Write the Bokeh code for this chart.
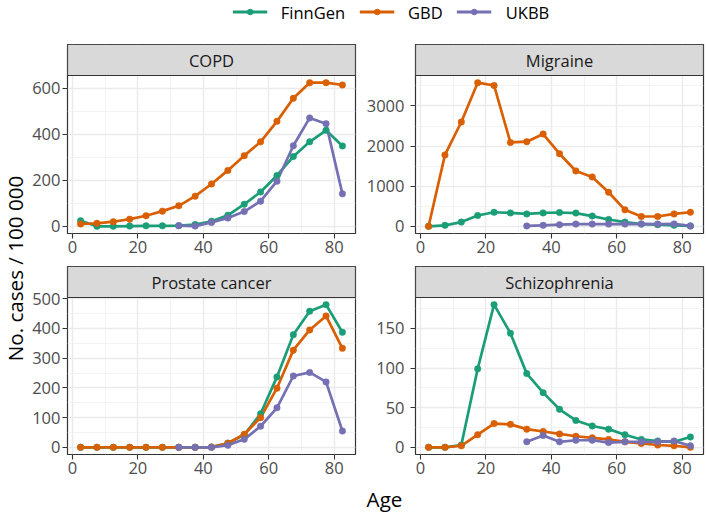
import math
from bokeh.plotting import figure
from bokeh.models import Range1d, FixedTicker, Label, Legend, LegendItem
from bokeh.layouts import column, row
from bokeh.core.properties import value
from bokeh.embed import file_html
from bokeh.resources import INLINE

# ---------------- data ----------------
AGES = [2.5, 7.5, 12.5, 17.5, 22.5, 27.5, 32.5, 37.5, 42.5, 47.5,
        52.5, 57.5, 62.5, 67.5, 72.5, 77.5, 82.5]
UKBB_AGES = AGES[6:]

SERIES = ["FinnGen", "GBD", "UKBB"]
COLORS = ["#1B9E77", "#D95F02", "#7570B3"]

COPD_FINNGEN = [24, 0, 0, 1, 2, 2, 3, 8, 22, 48, 96, 149, 221, 303, 367, 417, 349]
COPD_GBD = [10, 13, 20, 31, 46, 66, 89, 131, 184, 243, 307, 367, 456, 556, 624, 624, 614]
COPD_UKBB = [3, 1, 17, 36, 64, 109, 196, 350, 471, 446, 141]

MIGRAINE_FINNGEN = [0, 25, 105, 270, 350, 335, 310, 335, 345, 330, 255, 170, 105, 55, 40, 25, 10]
MIGRAINE_GBD = [0, 1780, 2600, 3580, 3510, 2090, 2110, 2300, 1810, 1380, 1230, 850, 410, 245, 245, 310, 350]
MIGRAINE_UKBB = [10, 25, 40, 55, 55, 55, 55, 60, 55, 60, 10]

PROSTATE_FINNGEN = [0, 0, 0, 0, 0, 0, 0, 0, 1, 14, 42, 113, 237, 379, 458, 480, 387]
PROSTATE_GBD = [0, 0, 0, 0, 0, 0, 0, 0, 1, 14, 44, 100, 199, 327, 395, 442, 333]
PROSTATE_UKBB = [0, 0, 0, 7, 27, 71, 133, 240, 252, 220, 55]

SCHIZO_FINNGEN = [0, 0, 3, 99, 180, 144, 93, 69, 48, 34, 27, 23, 16, 10, 8, 7, 13]
SCHIZO_GBD = [0, 0, 2, 16, 30, 29, 23, 20, 17, 14, 12, 10, 7, 5, 3, 2, 0]
SCHIZO_UKBB = [7, 15, 7, 9, 9, 6, 7, 7, 7, 8, 2]

X_TICKS = [0, 20, 40, 60, 80]
X_MINOR = [10, 30, 50, 70]

COPD_TICKS = [0, 200, 400, 600]
COPD_MINOR = [100, 300, 500]
MIGRAINE_TICKS = [0, 1000, 2000, 3000]
MIGRAINE_MINOR = [500, 1500, 2500, 3500]
PROSTATE_TICKS = [0, 100, 200, 300, 400, 500]
PROSTATE_MINOR = [50, 150, 250, 350, 450]
SCHIZO_TICKS = [0, 50, 100, 150]
SCHIZO_MINOR = [25, 75, 125, 175]

FONT = "Open Sans"
SMALL = "16.5px"
BIG = "20.6px"

STRIP_PX = 31


def expand(vals):
    lo, hi = min(vals), max(vals)
    d = (hi - lo) * 0.05
    return lo - d, hi + d


def panel(name, series, yticks, yminor, width, mbl, mbr, frame_h, mbb, ystand):
    """One facet: the strip sits in the top STRIP_PX pixels of the frame."""
    allv = series[0] + series[1] + series[2]
    ylo, yhi = expand(allv)
    xlo, xhi = expand(AGES)
    ytop = yhi + (yhi - ylo) * STRIP_PX / frame_h
    p = figure(width=width, height=frame_h + STRIP_PX + mbb,
               x_range=Range1d(xlo, xhi), y_range=Range1d(ylo, ytop),
               output_backend="svg", toolbar_location=None, title=None,
               min_border_left=mbl, min_border_right=mbr,
               min_border_top=0, min_border_bottom=mbb)
    p.xaxis.ticker = FixedTicker(ticks=X_TICKS, minor_ticks=X_MINOR)
    p.yaxis.ticker = FixedTicker(ticks=yticks, minor_ticks=yminor)
    for ax in (p.xaxis[0], p.yaxis[0]):
        ax.axis_line_color = None
        ax.major_tick_line_color = "#333333"
        ax.major_tick_line_width = 1.1
        ax.major_tick_in = 0
        ax.major_tick_out = 5
        ax.minor_tick_line_color = None
        ax.major_label_text_font = FONT
        ax.major_label_text_font_size = SMALL
        ax.major_label_text_color = "#4D4D4D"
    p.xaxis.major_label_standoff = 2
    p.yaxis.major_label_standoff = ystand
    p.grid.grid_line_color = "#EBEBEB"
    p.grid.grid_line_width = 1.4
    p.grid.minor_grid_line_color = "#F0F0F0"
    p.grid.minor_grid_line_width = 0.8
    p.outline_line_color = "#333333"
    p.outline_line_width = 1.2
    p.background_fill_color = "white"
    xs = [AGES, AGES, UKBB_AGES]
    for x, y, c in zip(xs, series, COLORS):
        p.line(x=x, y=y, line_color=c, line_width=2.7, line_join="round")
    for x, y, c in zip(xs, series, COLORS):
        p.scatter(x=x, y=y, size=6.5, fill_color=c, line_color=c, line_width=0.5)
    # facet strip
    p.quad(left=[xlo], right=[xhi], bottom=[yhi], top=[ytop],
           fill_color="#D9D9D9", line_color="#333333", line_width=1.2)
    p.add_layout(Label(x=(xlo + xhi) / 2, y=(yhi + ytop) / 2, text=name,
                       text_align="center", text_baseline="middle",
                       text_font=FONT, text_font_size=SMALL, text_color="#1A1A1A"))
    return p


YF_W = 29
LW, LMBL, LMBR = 329, 36, 3
RW, RMBL, RMBR = 347, 57, 2
TOP_F, TOP_MBB = 158, 33
BOT_F, BOT_MBB = 157, 30

p_copd = panel("COPD", [COPD_FINNGEN, COPD_GBD, COPD_UKBB], COPD_TICKS, COPD_MINOR,
               LW, LMBL, LMBR, TOP_F, TOP_MBB, 2)
p_mig = panel("Migraine", [MIGRAINE_FINNGEN, MIGRAINE_GBD, MIGRAINE_UKBB],
              MIGRAINE_TICKS, MIGRAINE_MINOR, RW, RMBL, RMBR, TOP_F, TOP_MBB, 6)
p_pro = panel("Prostate cancer", [PROSTATE_FINNGEN, PROSTATE_GBD, PROSTATE_UKBB],
              PROSTATE_TICKS, PROSTATE_MINOR, LW, LMBL, LMBR, BOT_F, BOT_MBB, 2)
p_sch = panel("Schizophrenia", [SCHIZO_FINNGEN, SCHIZO_GBD, SCHIZO_UKBB],
              SCHIZO_TICKS, SCHIZO_MINOR, RW, RMBL, RMBR, BOT_F, BOT_MBB, 6)

TOTAL_W = YF_W + LW + RW
OUTER_MBL = 76  # shared left border of the legend and x-title strips

# legend figure (frame placed so that the legend centres where wanted)
lf = figure(width=TOTAL_W, height=44, x_range=Range1d(0, 1), y_range=Range1d(0, 1),
            x_axis_type=None, y_axis_type=None, output_backend="svg",
            toolbar_location=None, title=None,
            min_border_left=OUTER_MBL, min_border_right=0,
            min_border_top=0, min_border_bottom=21)
lf.outline_line_color = None
items = []
for name, c in zip(SERIES, COLORS):
    lr = lf.line(x=[float("nan")], y=[float("nan")], line_color=c, line_width=3)
    sr = lf.scatter(x=[float("nan")], y=[float("nan")], size=5, fill_color=c, line_color=c)
    items.append(LegendItem(label=value(name), renderers=[lr, sr]))
leg = Legend(items=items, orientation="horizontal", location="center",
             glyph_width=35, glyph_height=14, label_height=14,
             label_standoff=14, spacing=14, padding=0, margin=0,
             border_line_color=None, background_fill_alpha=0,
             label_text_font=FONT, label_text_font_size=SMALL,
             label_text_color="black")
lf.add_layout(leg)

# y title figure
YF_H = (TOP_F + STRIP_PX + TOP_MBB) + (BOT_F + STRIP_PX + BOT_MBB)
yf = figure(width=YF_W, height=YF_H, x_range=Range1d(0, 1), y_range=Range1d(0, 1),
            x_axis_type=None, y_axis_type=None, output_backend="svg",
            toolbar_location=None, title=None, min_border=0)
yf.outline_line_color = None
yf.add_layout(Label(x=14.5, y=216, x_units="screen", y_units="screen",
                    text="No. cases / 100 000", angle=math.pi / 2,
                    text_align="center", text_baseline="middle",
                    text_font=FONT, text_font_size=BIG, text_color="black"))

# x title figure
xf = figure(width=TOTAL_W, height=29, x_range=Range1d(0, 1), y_range=Range1d(0, 1),
            x_axis_type=None, y_axis_type=None, output_backend="svg",
            toolbar_location=None, title=None,
            min_border_left=OUTER_MBL, min_border_right=0,
            min_border_top=0, min_border_bottom=0)
xf.outline_line_color = None
xf.add_layout(Label(x=384 - OUTER_MBL, y=14.5, x_units="screen", y_units="screen",
                    text="Age", text_align="center", text_baseline="middle",
                    text_font=FONT, text_font_size=BIG, text_color="black"))

layout = column(lf,
                row(yf,
                    column(p_copd, p_pro),
                    column(p_mig, p_sch)),
                xf)

open("out.html", "w").write(file_html(layout, INLINE))
